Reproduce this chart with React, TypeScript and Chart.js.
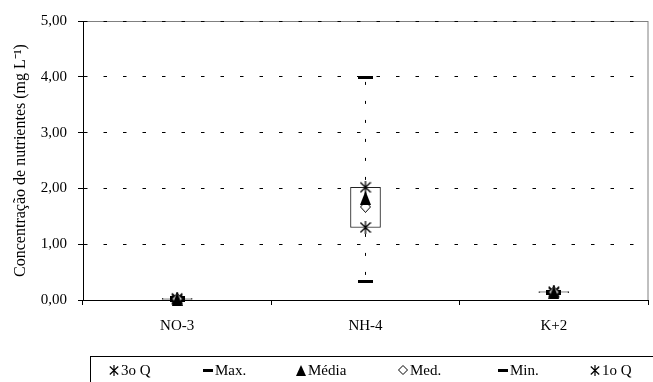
import React, { useEffect, useRef } from 'react';
import { Chart, registerables } from 'chart.js';

Chart.register(...registerables);

const categories = ['NO-3', 'NH-4', 'K+2'];
const q3Values = [0.03, 2.02, 0.15];
const maxValues = [0.05, 3.98, 0.16];
const meanValues = [0.02, 1.83, 0.14];
const medianValues = [0.02, 1.67, 0.14];
const minValues = [0.0, 0.34, 0.12];
const q1Values = [0.01, 1.3, 0.13];
const yTickLabels = ['0,00', '1,00', '2,00', '3,00', '4,00', '5,00'];
const seriesLabels = ['3o Q', 'Max.', 'Média', 'Med.', 'Min.', '1o Q'];
const yTitle = 'Concentração de nutrientes (mg L⁻¹)';

const FONT = "'Liberation Serif', 'Times New Roman', serif";

function makeCanvas(w: number, h: number, draw: (ctx: CanvasRenderingContext2D) => void) {
  const c = document.createElement('canvas');
  c.width = w;
  c.height = h;
  const ctx = c.getContext('2d') as CanvasRenderingContext2D;
  draw(ctx);
  return c;
}

function asterisk(w: number, h: number, lw: number) {
  return makeCanvas(w, h, (ctx) => {
    ctx.strokeStyle = '#000';
    ctx.lineWidth = lw;
    ctx.beginPath();
    ctx.moveTo(w / 2, 0);
    ctx.lineTo(w / 2, h);
    ctx.moveTo(0.8, 1.5);
    ctx.lineTo(w - 0.8, h - 1.5);
    ctx.moveTo(w - 0.8, 1.5);
    ctx.lineTo(0.8, h - 1.5);
    ctx.stroke();
  });
}
function dashBar(w: number, h: number) {
  return makeCanvas(w, h, (ctx) => {
    ctx.fillStyle = '#000';
    ctx.fillRect(0, 0, w, h);
  });
}
function triangle(w: number, h: number) {
  return makeCanvas(w, h, (ctx) => {
    ctx.fillStyle = '#000';
    ctx.beginPath();
    ctx.moveTo(w / 2, 0);
    ctx.lineTo(w, h);
    ctx.lineTo(0, h);
    ctx.closePath();
    ctx.fill();
  });
}
function diamond(w: number, h: number) {
  return makeCanvas(w, h, (ctx) => {
    ctx.fillStyle = '#fff';
    ctx.strokeStyle = '#000';
    ctx.lineWidth = 1;
    ctx.beginPath();
    ctx.moveTo(w / 2, 0.5);
    ctx.lineTo(w - 0.5, h / 2);
    ctx.lineTo(w / 2, h - 0.5);
    ctx.lineTo(0.5, h / 2);
    ctx.closePath();
    ctx.fill();
    ctx.stroke();
  });
}

export default function App() {
  const ref = useRef<HTMLCanvasElement>(null);

  useEffect(() => {
    if (!ref.current) return;
    Chart.defaults.font.family = FONT;
    Chart.defaults.color = '#000';

    const mAst = asterisk(12, 13, 1.3);
    const mBar = dashBar(15, 3);
    const mTri = triangle(11, 14);
    const mDia = diamond(11, 12);

    const lAst = asterisk(10, 11, 1.2);
    const lBar = dashBar(10, 3);
    const lTri = triangle(10, 11);
    const lDia = diamond(10, 10);

    const legendPlugin = {
      id: 'boxLegend',
      afterDraw(chart: any) {
        const ctx = chart.ctx as CanvasRenderingContext2D;
        ctx.save();
        ctx.strokeStyle = '#000';
        ctx.lineWidth = 1;
        ctx.strokeRect(90.5, 356.5, 700, 100);
        const marks = [lAst, lBar, lTri, lDia, lBar, lAst];
        const xs = [114, 208, 301, 403, 503, 595];
        const y = 370;
        ctx.font = `15px ${FONT}`;
        ctx.fillStyle = '#000';
        ctx.textBaseline = 'middle';
        ctx.textAlign = 'left';
        seriesLabels.forEach((lab, i) => {
          const m = marks[i];
          ctx.drawImage(m, Math.round(xs[i] - m.width / 2), Math.round(y - m.height / 2));
          ctx.fillText(lab, xs[i] + 7, y + 1);
        });
        ctx.restore();
      },
    };

    const framePlugin = {
      id: 'frame',
      beforeDraw(chart: any) {
        const { ctx, chartArea } = chart;
        ctx.save();
        ctx.strokeStyle = '#808080';
        ctx.lineWidth = 1;
        ctx.strokeRect(chartArea.left + 0.5, chartArea.top + 0.5, chartArea.right - chartArea.left - 0.5, chartArea.bottom - chartArea.top);
        ctx.restore();
      },
    };

    const markerDs = (label: string, data: number[], style: any, order: number) => ({
      type: 'line' as const,
      label,
      data,
      showLine: false,
      pointStyle: style,
      pointRadius: 5,
      pointHoverRadius: 5,
      pointBorderWidth: 0,
      borderColor: '#000',
      backgroundColor: '#000',
      order,
      clip: false as any,
    });

    const whiskers = categories.map((c, i) => ({
      type: 'line' as const,
      label: 'whisker-' + c,
      data: [
        { x: c, y: maxValues[i] },
        { x: c, y: minValues[i] },
      ],
      borderColor: '#000',
      borderWidth: 1,
      borderDash: [3, 16],
      borderDashOffset: 15,
      pointRadius: 0,
      order: 30,
      clip: false as any,
    }));

    const chart = new Chart(ref.current, {
      type: 'bar',
      data: {
        labels: categories,
        datasets: [
          markerDs(seriesLabels[2], meanValues, mTri, 1),
          markerDs(seriesLabels[3], medianValues, mDia, 2),
          markerDs(seriesLabels[0], q3Values, mAst, 3),
          markerDs(seriesLabels[5], q1Values, mAst, 3),
          markerDs(seriesLabels[1], maxValues, mBar, 4),
          markerDs(seriesLabels[4], minValues, mBar, 4),
          {
            type: 'bar' as const,
            label: 'box',
            data: categories.map((_, i) => [q1Values[i], q3Values[i]]) as any,
            backgroundColor: '#fff',
            borderColor: '#222',
            borderWidth: 1,
            borderSkipped: false,
            barThickness: 30,
            order: 20,
          },
          ...whiskers,
        ] as any,
      },
      options: {
        animation: false,
        responsive: false,
        devicePixelRatio: 1,
        layout: { padding: { top: 21, right: 5, left: 0, bottom: 0 } },
        plugins: { legend: { display: false }, tooltip: { enabled: false } },
        events: [],
        scales: {
          x: {
            type: 'category',
            offset: true,
            grid: { display: true, drawOnChartArea: false, offset: true, tickLength: 5, color: '#000', tickColor: '#000' },
            border: { display: true, color: '#000', width: 1 },
            ticks: { color: '#000', font: { size: 15, family: FONT }, padding: 12 },
            afterFit: (s: any) => {
              s.height = 82;
            },
          },
          y: {
            min: 0,
            max: 5,
            ticks: {
              stepSize: 1,
              color: '#000',
              font: { size: 15, family: FONT },
              padding: 11,
              callback: (_v: any, i: number) => yTickLabels[i],
            },
            grid: { color: '#000', lineWidth: 1, tickLength: 5, tickColor: '#000', tickBorderDash: [] },
            border: { display: true, color: '#000', width: 1, dash: [3.5, 16], dashOffset: 0 },
            title: {
              display: true,
              text: yTitle,
              color: '#000',
              font: { size: 16, family: FONT },
              padding: { top: 11, bottom: 0 },
            },
            afterFit: (s: any) => {
              s.width = 83;
            },
          },
        },
      } as any,
      plugins: [framePlugin, legendPlugin],
    });
    return () => chart.destroy();
  }, []);

  return (
    <div style={{ position: 'fixed', left: 0, top: 0, width: 653, height: 382, background: '#fff' }}>
      <canvas ref={ref} width={653} height={382} style={{ display: 'block', width: 653, height: 382 }} />
    </div>
  );
}
